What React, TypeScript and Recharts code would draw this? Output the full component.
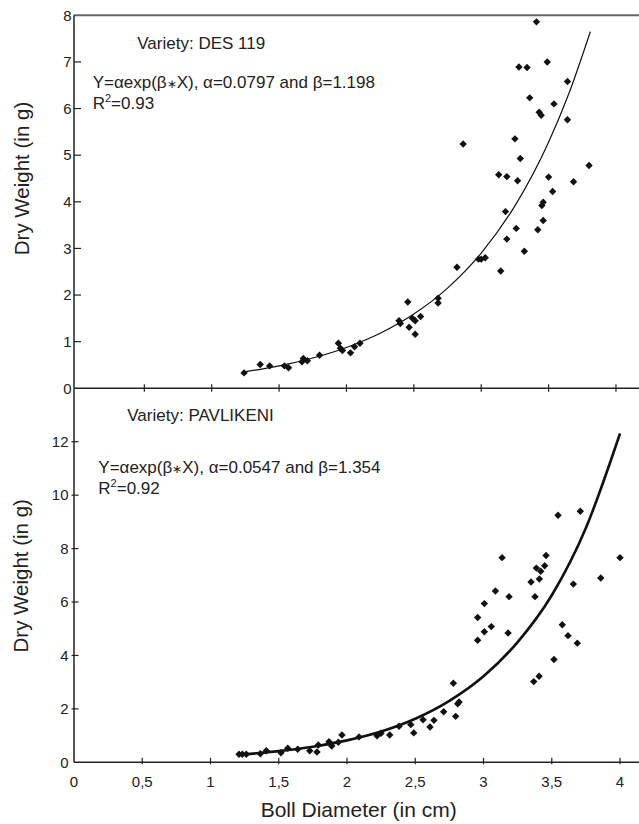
import React from 'react';
import { ComposedChart, Scatter, Line, XAxis, YAxis, ReferenceLine } from 'recharts';

const FONT = '"Liberation Sans", Arial, Helvetica, sans-serif';
const INK = '#111';

// ---- Variety DES 119 (top panel) ----
const desX = [1.24, 1.36, 1.43, 1.54, 1.57, 1.67, 1.68, 1.71, 1.80, 1.94, 1.955, 1.97, 2.03, 2.06, 2.10, 2.39, 2.40, 2.455, 2.465, 2.49, 2.51, 2.51, 2.55, 2.68, 2.68, 2.82, 2.866, 2.98, 3.00, 3.03, 3.145, 3.13, 3.19, 3.18, 3.19, 3.25, 3.26, 3.27, 3.28, 3.29, 3.32, 3.34, 3.36, 3.41, 3.42, 3.43, 3.445, 3.45, 3.46, 3.46, 3.49, 3.50, 3.53, 3.54, 3.64, 3.64, 3.685, 3.80];
const desY = [0.33, 0.51, 0.48, 0.48, 0.44, 0.57, 0.64, 0.59, 0.71, 0.965, 0.86, 0.81, 0.76, 0.89, 0.965, 1.45, 1.39, 1.85, 1.31, 1.50, 1.16, 1.45, 1.54, 1.93, 1.83, 2.595, 5.24, 2.77, 2.77, 2.80, 2.515, 4.58, 4.54, 3.79, 3.20, 5.35, 3.43, 4.45, 6.89, 4.93, 2.94, 6.88, 6.23, 7.86, 3.40, 5.92, 5.855, 3.92, 3.60, 3.99, 7.00, 4.53, 4.22, 6.10, 6.58, 5.76, 4.43, 4.78];
const desFitX = [1.24, 1.5, 1.75, 2.0, 2.25, 2.5, 2.75, 3.0, 3.25, 3.5, 3.65, 3.81];
const desFitY = [0.352, 0.481, 0.649, 0.875, 1.18, 1.593, 2.149, 2.9, 3.913, 5.279, 6.317, 7.65];

// ---- Variety PAVLIKENI (bottom panel) ----
const pavX = [1.209, 1.233, 1.262, 1.365, 1.409, 1.516, 1.566, 1.639, 1.727, 1.780, 1.790, 1.868, 1.888, 1.936, 1.963, 2.088, 2.220, 2.249, 2.313, 2.381, 2.467, 2.489, 2.557, 2.608, 2.637, 2.708, 2.779, 2.796, 2.811, 2.821, 2.957, 2.957, 3.006, 3.006, 3.057, 3.087, 3.136, 3.180, 3.187, 3.348, 3.368, 3.377, 3.387, 3.407, 3.409, 3.419, 3.448, 3.458, 3.516, 3.546, 3.577, 3.619, 3.658, 3.687, 3.709, 3.859, 4.000];
const pavY = [0.30, 0.30, 0.30, 0.32, 0.435, 0.36, 0.525, 0.49, 0.435, 0.385, 0.65, 0.77, 0.61, 0.75, 1.02, 0.95, 0.99, 1.09, 1.02, 1.35, 1.41, 1.10, 1.59, 1.32, 1.57, 1.89, 2.96, 1.72, 2.19, 2.26, 5.42, 4.57, 5.94, 4.885, 5.08, 6.41, 7.66, 4.84, 6.20, 6.75, 3.02, 6.20, 7.27, 3.22, 6.86, 7.15, 7.36, 7.74, 3.85, 9.25, 5.15, 4.74, 6.67, 4.46, 9.40, 6.90, 7.66];
const pavFitX = [1.2, 1.5, 1.75, 2.0, 2.25, 2.5, 2.75, 3.0, 3.25, 3.5, 3.75, 4.0];
const pavFitY = [0.278, 0.417, 0.585, 0.82, 1.151, 1.63, 2.3, 3.22, 4.5, 6.254, 8.774, 12.31];

// ---- ticks ----
const xTicksTop = [0.5, 1, 1.5, 2, 2.5, 3, 3.5, 4];
const xTicksBottom = [0, 0.5, 1, 1.5, 2, 2.5, 3, 3.5, 4];
const yTicksTop = [0, 1, 2, 3, 4, 5, 6, 7, 8];
const yTicksBottom = [0, 2, 4, 6, 8, 10, 12];

const zip = (xs: number[], ys: number[]) => xs.map((x, i) => ({ x, y: ys[i] }));
const desPoints = zip(desX, desY);
const desFit = zip(desFitX, desFitY);
const pavPoints = zip(pavX, pavY);
const pavFit = zip(pavFitX, pavFitY);

const Diamond = (props: any) => {
  const { cx, cy } = props;
  if (cx == null || cy == null) return null;
  const r = 3.7;
  return <path d={`M${cx},${cy - r}L${cx + r},${cy}L${cx},${cy + r}L${cx - r},${cy}Z`} fill={INK} />;
};

const fmt = (v: number) => String(v).replace('.', ',');

const TopXTick = (props: any) => {
  const { x, y } = props;
  return <line x1={x} x2={x} y1={y - 4} y2={y + 3.5} stroke="#222" strokeWidth={1.2} />;
};

const BottomXTick = (props: any) => {
  const { x, y, payload } = props;
  return (
    <g>
      {payload.value !== 0 && <line x1={x} x2={x} y1={y - 4.5} y2={y + 2} stroke="#222" strokeWidth={1.2} />}
      <text x={x} y={y + 25} textAnchor="middle" fontSize={15} fontFamily={FONT} fill="#222">{fmt(payload.value)}</text>
    </g>
  );
};

const TopYTick = (props: any) => {
  const { x, y, payload } = props;
  const v = payload.value;
  return (
    <g>
      {v !== 0 && v !== 8 && <line x1={x} x2={x + 7} y1={y} y2={y} stroke="#222" strokeWidth={1.2} />}
      <text x={x - 2.5} y={y + 5.3} textAnchor="end" fontSize={15} fontFamily={FONT} fill="#222">{v}</text>
    </g>
  );
};

const BottomYTick = (props: any) => {
  const { x, y, payload } = props;
  const v = payload.value;
  return (
    <g>
      {v !== 0 && <line x1={x - 2.5} x2={x + 4.5} y1={y} y2={y} stroke="#222" strokeWidth={1.2} />}
      <text x={x - 5.5} y={y + 5.3} textAnchor="end" fontSize={15} fontFamily={FONT} fill="#222">{v}</text>
    </g>
  );
};

const axisLine = { stroke: '#222', strokeWidth: 1.5 };

const Formula = ({ x, y, a, b }: { x: number; y: number; a: string; b: string }) => (
  <text x={x} y={y} fontSize={17}>
    Y=αexp(β<tspan fontSize={12}>∗</tspan>X), α={a} and β={b}
  </text>
);

export default function App() {
  return (
    <div style={{ position: 'absolute', left: 0, top: 0, width: 639, height: 824, background: '#fff' }}>
      <div style={{ position: 'absolute', left: 0, top: 0 }}>
        <ComposedChart width={639} height={400} margin={{ top: 15.3, right: 0, bottom: 0, left: 0 }}>
          <XAxis
            type="number"
            dataKey="x"
            domain={[-0.022, 4.171]}
            allowDataOverflow
            ticks={xTicksTop}
            height={11.7}
            tickSize={0}
            tickMargin={0}
            tickLine={false}
            axisLine={axisLine}
            tick={<TopXTick />}
            interval={0}
          />
          <YAxis
            type="number"
            dataKey="y"
            domain={[0, 8]}
            allowDataOverflow
            ticks={yTicksTop}
            width={74}
            tickSize={0}
            tickMargin={0}
            tickLine={false}
            axisLine={axisLine}
            tick={<TopYTick />}
            interval={0}
          />
          <ReferenceLine y={8} stroke="#666" strokeWidth={2} />
          <Line data={desFit} dataKey="y" type="monotone" dot={false} stroke={INK} strokeWidth={1.2} isAnimationActive={false} />
          <Scatter data={desPoints} dataKey="y" shape={<Diamond />} isAnimationActive={false} />
        </ComposedChart>
      </div>
      <div style={{ position: 'absolute', left: 0, top: 380 }}>
        <ComposedChart width={639} height={444} margin={{ top: 8.3, right: 0, bottom: 0, left: 0 }}>
          <XAxis
            type="number"
            dataKey="x"
            domain={[0, 4.139]}
            allowDataOverflow
            ticks={xTicksBottom}
            height={61.7}
            tickSize={0}
            tickMargin={0}
            tickLine={false}
            axisLine={axisLine}
            tick={<BottomXTick />}
            interval={0}
          />
          <YAxis
            type="number"
            dataKey="y"
            domain={[0, 14]}
            allowDataOverflow
            ticks={yTicksBottom}
            width={74}
            tickSize={0}
            tickMargin={0}
            tickLine={false}
            axisLine={axisLine}
            tick={<BottomYTick />}
            interval={0}
          />
          <Line data={pavFit} dataKey="y" type="monotone" dot={false} stroke={INK} strokeWidth={2.6} isAnimationActive={false} />
          <Scatter data={pavPoints} dataKey="y" shape={<Diamond />} isAnimationActive={false} />
        </ComposedChart>
      </div>
      <svg width={639} height={824} style={{ position: 'absolute', left: 0, top: 0, pointerEvents: 'none' }} fontFamily={FONT} fill="#222">
        <text x={137.3} y={49} fontSize={17}>Variety: DES 119</text>
        <Formula x={92.7} y={87.5} a="0.0797" b="1.198" />
        <text x={92.7} y={109} fontSize={17}>R<tspan fontSize={11} dy={-7}>2</tspan><tspan dy={7}>=0.93</tspan></text>
        <text x={127.3} y={420.7} fontSize={17}>Variety: PAVLIKENI</text>
        <Formula x={98.3} y={472.5} a="0.0547" b="1.354" />
        <text x={98.3} y={494} fontSize={17}>R<tspan fontSize={11} dy={-7}>2</tspan><tspan dy={7}>=0.92</tspan></text>
        <text x={28.5} y={178.5} fontSize={20.5} textAnchor="middle" transform="rotate(-90 28.5 178.5)">Dry Weight (in g)</text>
        <text x={28.5} y={575.8} fontSize={20.5} textAnchor="middle" transform="rotate(-90 28.5 575.8)">Dry Weight (in g)</text>
        <text x={358.7} y={816.5} fontSize={21} textAnchor="middle">Boll Diameter (in cm)</text>
      </svg>
    </div>
  );
}
